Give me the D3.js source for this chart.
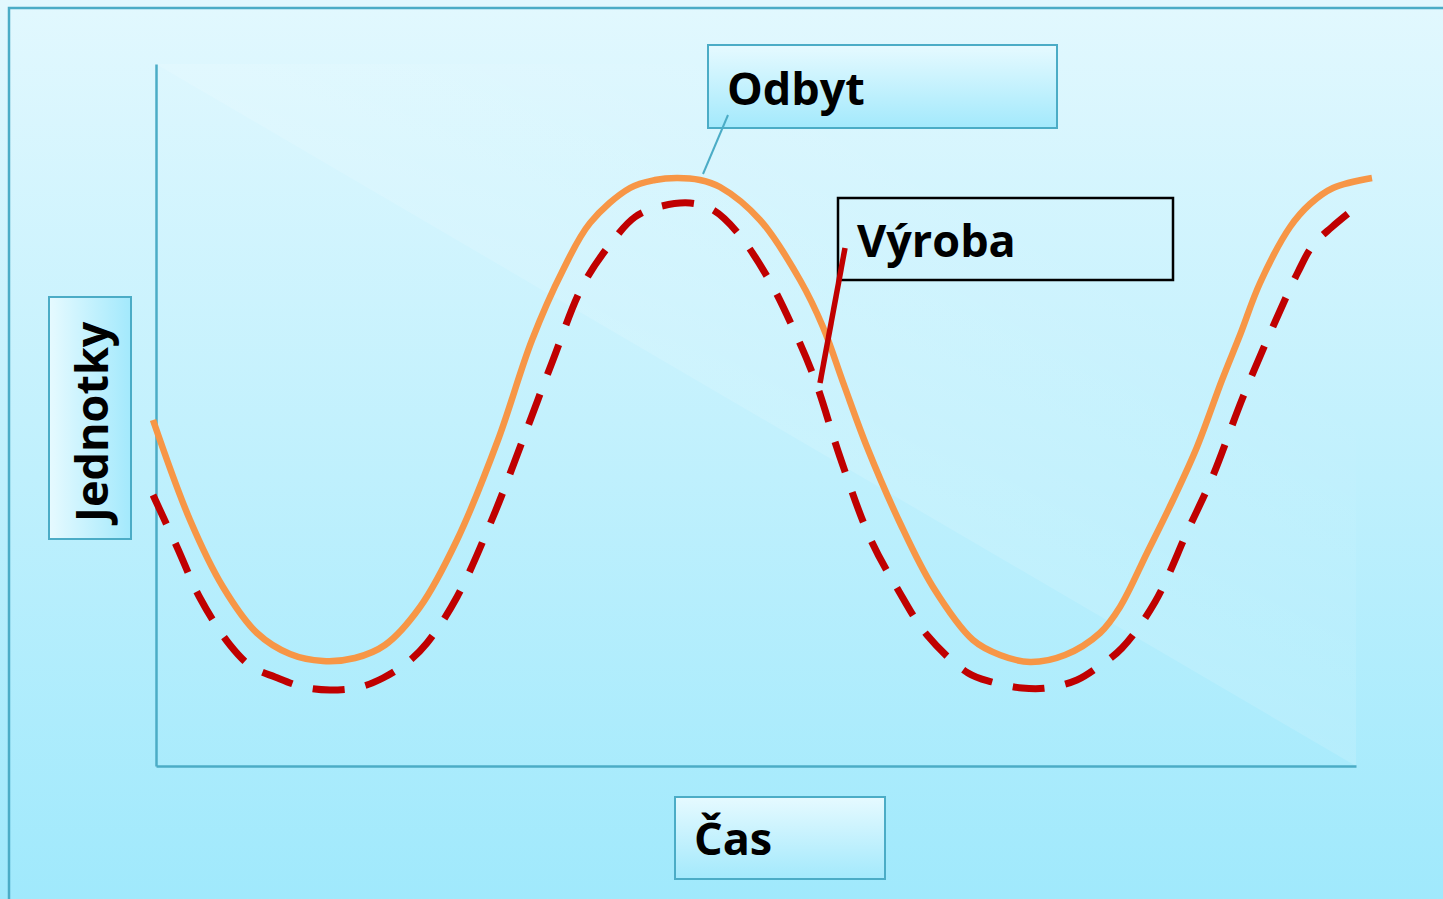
<!DOCTYPE html>
<html lang="cs">
<head>
    <meta charset="UTF-8">
    <title>Odbyt a výroba</title>
    <style>
        body { margin: 0; background: #fff; }
        #chart { display: block; }
        .label { font-family: "Open Sans", "Noto Sans", sans-serif; font-weight: 700; font-size: 45px; fill: #000; }
    </style>
</head>
<body>
    <svg id="chart" width="1443" height="899"></svg>

    <script src="https://d3js.org/d3.v7.min.js"></script>
    <script>
        // time (x) and units (y)
        const timeOdbyt = [-0.3, 3.4, 6.7, 10.1, 13.4, 16.7, 19.9, 22.9, 26.4, 30.1, 34.2, 37.6, 40.7, 43.4, 47.4, 49.9, 52.1, 54.4, 56.4, 60.4, 64.4, 66.7, 68.8, 71.1, 74.4, 77.7, 81.7, 84.4, 87.4, 90.9, 94.4, 96.4, 99.1, 101.7, 104.1, 106.6, 108.4, 110.4, 113.4, 115.4, 117.7, 121.6];
        const valuesOdbyt = [34.6, 24.6, 17.9, 13.3, 11.2, 10.5, 10.8, 12.1, 15.9, 22.6, 32.6, 42.6, 49.6, 54.3, 57.8, 58.6, 58.8, 58.6, 57.9, 54.6, 48.6, 43.9, 38.1, 31.9, 24.3, 17.9, 12.6, 11.1, 10.4, 11.1, 13.3, 15.9, 21.3, 26.6, 31.9, 38.6, 43.1, 48.3, 53.9, 56.2, 57.8, 58.8];

        const timeVyroba = [-0.3, 2.1, 4.4, 7.4, 9.6, 11.9, 14.7, 17.4, 20.4, 22.7, 25.2, 27.1, 30.1, 33.7, 36.6, 39.7, 42.7, 45.9, 47.9, 50.2, 53.4, 55.7, 58.1, 61.2, 63.7, 65.9, 68.4, 71.4, 74.1, 77.1, 81.2, 83.6, 86.6, 89.1, 92.1, 94.2, 96.6, 99.9, 103.2, 105.6, 108.7, 111.9, 114.2, 115.7, 117.6, 119.9];
        const valuesVyroba = [27.1, 21.9, 16.8, 12.1, 9.9, 8.9, 7.9, 7.6, 7.9, 8.8, 10.4, 12.3, 16.9, 24.9, 32.4, 40.6, 48.1, 52.8, 54.9, 55.9, 56.3, 55.6, 53.4, 48.8, 43.8, 38.6, 30.9, 22.8, 17.8, 13.1, 9.3, 8.4, 7.8, 7.8, 8.6, 9.9, 11.8, 16.4, 23.6, 28.8, 36.9, 44.4, 49.4, 52.1, 53.9, 55.8];

        const seriesNames = ["Odbyt", "Výroba"];
        const axisTitles = ["Jednotky", "Čas"];

        // where each callout touches its curve (data coords)
        const calloutOdbyt = [54.7, 59.2];
        const calloutVyroba = [66.4, 38.3];

        const svg = d3.select("#chart");
        const W = 1443, H = 899;
        const margin = { top: 64, right: 87, bottom: 133, left: 156 };

        const x = d3.scaleLinear().domain([0, 120]).range([margin.left, W - margin.right]);
        const y = d3.scaleLinear().domain([0, 70.2]).range([H - margin.bottom, margin.top]);

        const defs = svg.append("defs");
        function grad(id, x2, y2, c1, c2) {
            const g = defs.append("linearGradient").attr("id", id)
                .attr("x1", 0).attr("y1", 0).attr("x2", x2).attr("y2", y2);
            g.append("stop").attr("offset", "0%").attr("stop-color", c1);
            g.append("stop").attr("offset", "100%").attr("stop-color", c2);
        }
        grad("bg", 0, 1, "#e2f8fe", "#a0e9fc");
        grad("boxV", 0, 1, "#e6faff", "#a3e9fc");
        grad("boxH", 1, 0, "#e6faff", "#a3e9fc");

        // light wedge fades away from the diagonal
        const tri = defs.append("linearGradient").attr("id", "tri")
            .attr("gradientUnits", "userSpaceOnUse")
            .attr("x1", 756).attr("y1", 415).attr("x2", 910).attr("y2", 150);
        tri.append("stop").attr("offset", "0%").attr("stop-color", "#fff").attr("stop-opacity", 0.13);
        tri.append("stop").attr("offset", "100%").attr("stop-color", "#fff").attr("stop-opacity", 0);

        // background + slide frame
        svg.append("rect").attr("width", W).attr("height", H).attr("fill", "url(#bg)");
        svg.append("rect").attr("x", 9).attr("y", 8).attr("width", W + 20).attr("height", H + 20)
            .attr("fill", "none").attr("stroke", "#4bacc6").attr("stroke-width", 2.5);

        svg.append("path")
            .attr("d", `M${x(0)},${y(70.2)} L${x(120)},${y(70.2)} L${x(120)},${y(0)} Z`)
            .attr("fill", "url(#tri)");

        // axes (lines only, no ticks)
        svg.append("g").attr("transform", `translate(0,${y(0)})`)
            .call(d3.axisBottom(x).ticks(0).tickSizeOuter(0));
        svg.append("g").attr("transform", `translate(${x(0)},0)`)
            .call(d3.axisLeft(y).ticks(0).tickSizeOuter(0));
        svg.selectAll(".domain").attr("stroke", "#4bacc6").attr("stroke-width", 2.5);

        const line = d3.line().x(d => x(d[0])).y(d => y(d[1])).curve(d3.curveCatmullRom.alpha(0.5));

        svg.append("path")
            .datum(d3.zip(timeOdbyt, valuesOdbyt))
            .attr("d", line)
            .attr("fill", "none").attr("stroke", "#f79646").attr("stroke-width", 6.5);

        svg.append("path")
            .datum(d3.zip(timeVyroba, valuesVyroba))
            .attr("d", line)
            .attr("fill", "none").attr("stroke", "#c00000").attr("stroke-width", 7)
            .attr("stroke-dasharray", "32 21");

        // label boxes
        svg.append("rect").attr("x", 708).attr("y", 45).attr("width", 349).attr("height", 83)
            .attr("fill", "url(#boxV)").attr("stroke", "#4bacc6").attr("stroke-width", 2);
        svg.append("rect").attr("x", 838).attr("y", 198).attr("width", 335).attr("height", 82)
            .attr("fill", "none").attr("stroke", "#000").attr("stroke-width", 2.5);
        svg.append("rect").attr("x", 49).attr("y", 297).attr("width", 82).attr("height", 242)
            .attr("fill", "url(#boxH)").attr("stroke", "#4bacc6").attr("stroke-width", 2);
        svg.append("rect").attr("x", 675).attr("y", 797).attr("width", 210).attr("height", 82)
            .attr("fill", "url(#boxV)").attr("stroke", "#4bacc6").attr("stroke-width", 2);

        // callout lines
        svg.append("line").attr("x1", 728).attr("y1", 115)
            .attr("x2", x(calloutOdbyt[0])).attr("y2", y(calloutOdbyt[1]))
            .attr("stroke", "#4bacc6").attr("stroke-width", 2);
        svg.append("line").attr("x1", 845).attr("y1", 248)
            .attr("x2", x(calloutVyroba[0])).attr("y2", y(calloutVyroba[1]))
            .attr("stroke", "#c00000").attr("stroke-width", 5.5);

        // texts
        svg.append("text").attr("class", "label").attr("x", 727).attr("y", 105).text(seriesNames[0]);
        svg.append("text").attr("class", "label").attr("x", 857).attr("y", 257).text(seriesNames[1]);
        svg.append("text").attr("class", "label")
            .attr("transform", "translate(108,522) rotate(-90)").text(axisTitles[0]);
        svg.append("text").attr("class", "label").attr("x", 694).attr("y", 855).text(axisTitles[1]);
    </script>
</body>
</html>
